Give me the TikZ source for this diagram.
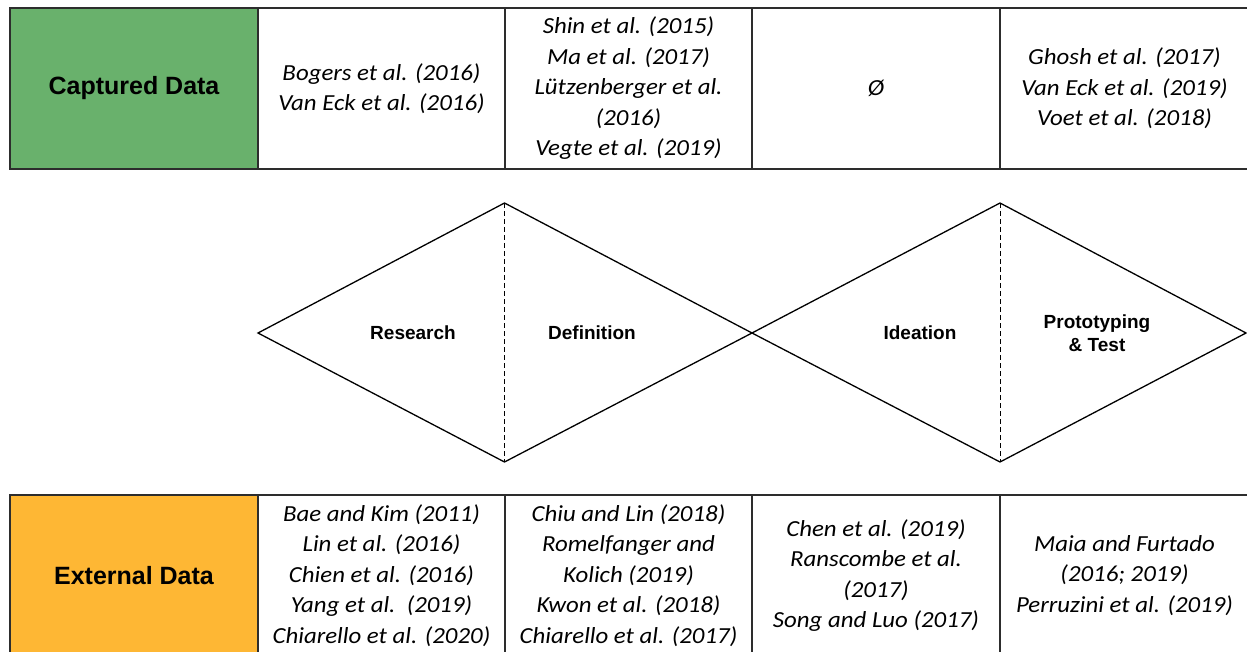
\documentclass[tikz,border=0pt]{standalone}
\usepackage{fontspec}
\setmainfont{Carlito}[FakeStretch=1.08]
\newfontfamily\headfont{Liberation Sans}
\definecolor{capgreen}{RGB}{105,177,108}
\definecolor{extorange}{RGB}{254,183,52}
\definecolor{tabline}{RGB}{45,45,45}
\tikzset{
  cell/.style={draw=tabline, line width=1.3pt, minimum height=161pt, inner sep=0pt, align=center,
    font=\fontsize{23}{30.5}\selectfont\itshape},
  headcell/.style={cell, font=\headfont\bfseries\fontsize{25}{28}\selectfont},
  phase/.style={align=center, inner sep=0pt, font=\headfont\bfseries\fontsize{19}{23}\selectfont},
  dia/.style={draw=black, line width=1.3pt, line join=miter},
  divider/.style={draw=black, line width=1pt, dash pattern=on 5pt off 3pt}
}
\begin{document}
\begin{tikzpicture}[x=1pt, y=-1pt]
\clip (0,0) rectangle (1247,652);
\fill[white] (0,0) rectangle (1247,652);

% ---- top table: Captured Data
\node[headcell, fill=capgreen, minimum width=248pt] (cap) at (134,88.5) {Captured Data};
\node[cell, minimum width=247pt] (c1) at (381.5,88.5) {Bogers et al. (2016)\\Van Eck et al. (2016)};
\node[cell, minimum width=247pt] (c2) at (628.5,88.5) {Shin et al. (2015)\\Ma et al. (2017)\\L\"utzenberger et al.\\(2016)\\Vegte et al. (2019)};
\node[cell, minimum width=248pt] (c3) at (876,88.5) {Ø};
\node[cell, minimum width=249pt] (c4) at (1124.5,88.5) {Ghosh et al. (2017)\\Van Eck et al. (2019)\\Voet et al. (2018)};

% ---- bottom table: External Data
\node[headcell, fill=extorange, minimum width=248pt] (ext) at (134,575.5) {External Data};
\node[cell, minimum width=247pt] (e1) at (381.5,575.5) {Bae and Kim (2011)\\Lin et al. (2016)\\Chien et al. (2016)\\Yang et al.\ \ (2019)\\Chiarello et al. (2020)};
\node[cell, minimum width=247pt] (e2) at (628.5,575.5) {Chiu and Lin (2018)\\Romelfanger and\\Kolich (2019)\\Kwon et al. (2018)\\Chiarello et al. (2017)};
\node[cell, minimum width=248pt] (e3) at (876,575.5) {Chen et al. (2019)\\Ranscombe et al.\\(2017)\\Song and Luo (2017)};
\node[cell, minimum width=249pt] (e4) at (1124.5,575.5) {Maia and Furtado\\(2016; 2019)\\Perruzini et al. (2019)};

% ---- double diamond
\coordinate (l1) at (258,333);
\coordinate (t1) at (504.5,203);
\coordinate (m)  at (752,333);
\coordinate (b1) at (504.5,462);
\coordinate (t2) at (1000,203);
\coordinate (r2) at (1246,333);
\coordinate (b2) at (1000,462);

\draw[dia] (l1) -- (t1) -- (m) -- (b1) -- cycle;
\draw[dia] (m) -- (t2) -- (r2) -- (b2) -- cycle;
\draw[divider] (t1) -- (b1);
\draw[divider] (t2) -- (b2);

\node[phase] (research)   at (413,333) {Research};
\node[phase] (definition) at (592,333) {Definition};
\node[phase] (ideation)   at (920,333) {Ideation};
\node[phase] (proto)      at (1097,333) {Prototyping\\\& Test};
\end{tikzpicture}
\end{document}
